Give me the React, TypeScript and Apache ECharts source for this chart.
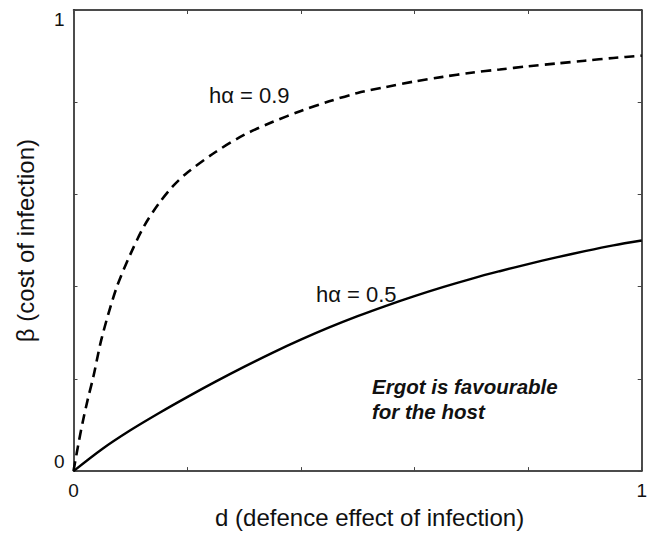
import React, { useEffect, useRef } from "react";
import * as echarts from "echarts";

// d values and β values
const dashedD = [0, 0.01, 0.017, 0.025, 0.035, 0.05, 0.075, 0.1, 0.125, 0.15, 0.175, 0.2, 0.25, 0.3, 0.35, 0.4, 0.45, 0.5, 0.55, 0.6, 0.65, 0.7, 0.75, 0.8, 0.85, 0.9, 0.95, 1.0];
const dashedB = [0, 0.068, 0.111, 0.155, 0.205, 0.29, 0.395, 0.47, 0.533, 0.58, 0.618, 0.647, 0.692, 0.729, 0.757, 0.781, 0.802, 0.82, 0.833, 0.845, 0.855, 0.864, 0.871, 0.878, 0.884, 0.89, 0.896, 0.901];

const solidD = [0, 0.05, 0.1, 0.15, 0.2, 0.25, 0.3, 0.35, 0.4, 0.45, 0.5, 0.55, 0.6, 0.65, 0.7, 0.75, 0.8, 0.85, 0.9, 0.95, 1.0];
const solidB = [0, 0.0475, 0.0885, 0.1255, 0.1605, 0.194, 0.226, 0.2565, 0.285, 0.3115, 0.336, 0.3585, 0.3795, 0.399, 0.417, 0.4335, 0.449, 0.4635, 0.477, 0.4895, 0.5];

const tickLabels = ["0", "1"];
const curveLabels = ["hα = 0.9", "hα = 0.5"];
const noteLines = ["Ergot is favourable", "for the host"];

const FONT = "'Liberation Sans', Arial, Helvetica, sans-serif";

export default function App() {
  const ref = useRef<HTMLDivElement>(null);
  useEffect(() => {
    if (!ref.current) return;
    const chart = echarts.init(ref.current, null, { renderer: "svg" });
    const fmt = (v: number) => (v === 0 ? tickLabels[0] : v === 1 ? tickLabels[1] : "");
    const axisCommon = {
      type: "value" as const,
      min: 0,
      max: 1,
      interval: 0.2,
      axisLine: { show: true, onZero: false, lineStyle: { color: "#111", width: 1.5 } },
      axisTick: { show: true, inside: true, length: 4, lineStyle: { color: "#444", width: 1 } },
      splitLine: { show: false },
    };
    chart.setOption({
      animation: false,
      backgroundColor: "#fff",
      grid: { left: 73.5, right: 6.5, top: 10, bottom: 51.5 },
      xAxis: [
        {
          ...axisCommon,
          position: "bottom",
          axisLabel: { formatter: fmt, color: "#111", fontSize: 19, fontFamily: FONT, margin: 10 },
          name: "d (defence effect of infection)",
          nameLocation: "middle",
          nameGap: 27,
          nameTextStyle: { color: "#111", fontSize: 24, fontFamily: FONT, padding: [0, 0, 0, 24] },
        },
        { ...axisCommon, position: "top", axisLabel: { show: false } },
      ],
      yAxis: [
        {
          ...axisCommon,
          position: "left",
          axisLabel: {
            formatter: fmt,
            color: "#111",
            fontSize: 19,
            fontFamily: FONT,
            margin: 9,
            verticalAlignMaxLabel: "top",
            verticalAlignMinLabel: "bottom",
          },
          name: "β (cost of infection)",
          nameLocation: "middle",
          nameGap: 36,
          nameTextStyle: { color: "#111", fontSize: 24, fontFamily: FONT },
        },
        { ...axisCommon, position: "right", axisLabel: { show: false } },
      ],
      series: [
        {
          type: "line",
          data: dashedD.map((d, i) => [d, dashedB[i]]),
          showSymbol: false,
          smooth: 0.3,
          lineStyle: { color: "#000", width: 2.6, type: [10, 6] },
        },
        {
          type: "line",
          data: solidD.map((d, i) => [d, solidB[i]]),
          showSymbol: false,
          smooth: 0.3,
          lineStyle: { color: "#000", width: 2.4, type: "solid" },
        },
      ],
      graphic: [
        {
          type: "text",
          x: 209,
          y: 95.5,
          style: { text: curveLabels[0], font: `22px ${FONT}`, fill: "#111", verticalAlign: "middle" },
        },
        {
          type: "text",
          x: 316,
          y: 294,
          style: { text: curveLabels[1], font: `22px ${FONT}`, fill: "#111", verticalAlign: "middle" },
        },
        {
          type: "text",
          x: 372,
          y: 386,
          style: { text: noteLines[0], font: `italic bold 20.5px ${FONT}`, fill: "#111", verticalAlign: "middle" },
        },
        {
          type: "text",
          x: 372,
          y: 411,
          style: { text: noteLines[1], font: `italic bold 20.5px ${FONT}`, fill: "#111", verticalAlign: "middle" },
        },
      ],
    });
    return () => chart.dispose();
  }, []);
  return (
    <div style={{ position: "fixed", left: 0, top: 0, width: 650, height: 534, background: "#fff" }}>
      <div ref={ref} style={{ width: 650, height: 534 }} />
    </div>
  );
}
